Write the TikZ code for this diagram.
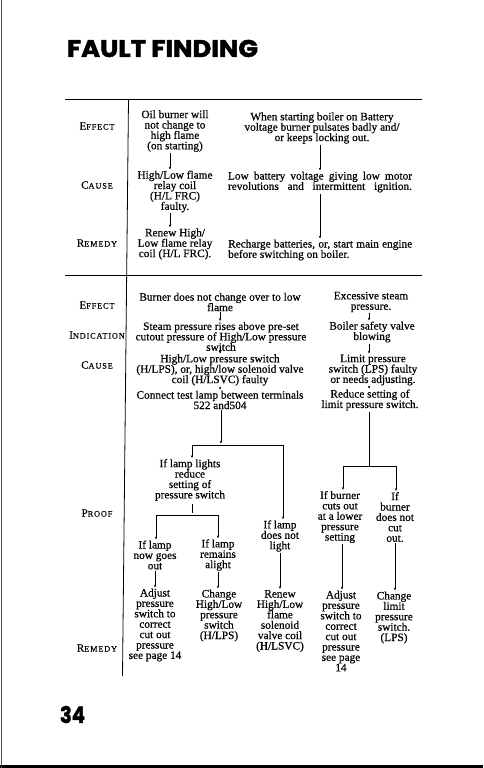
\documentclass[tikz,border=0pt]{standalone}
\usepackage{fontspec}
\usepackage{graphicx}
\setmainfont{Liberation Serif}[FakeBold=0.5]
\newfontfamily\titlefont{Poppins}[BoldFeatures={FakeBold=2}]
\newfontfamily\lblfont{Liberation Serif}[LetterSpace=10,FakeBold=0.4]
\usetikzlibrary{arrows.meta}
\newcommand\lbl[2]{{\lblfont\fontsize{11}{12}\selectfont #1\fontsize{8.3}{10}\selectfont #2}}
\begin{document}
\lineskiplimit=-5pt
\begin{tikzpicture}[x=1pt,y=-1pt,
  txt/.style={font=\fontsize{11.3}{10.4}\selectfont, align=center, inner sep=1pt},
  lab/.style={inner sep=0pt},
  arr/.style={draw, line width=0.55pt, -{Stealth[length=2.8pt,width=2.4pt]}},
  ln/.style={draw, line width=0.55pt},
  rule/.style={draw, line width=1pt}]
\useasboundingbox (0,0) rectangle (483,768);
\fill[white] (0,0) rectangle (483,768);
% scan edges
\fill[black] (0,764.5) rectangle (483,768);
\draw[line width=1pt, black!70] (1.5,0) -- (1.5,768);

% title and page number
\node[inner sep=0pt] (title) at (162.5,48.5) {\resizebox{191pt}{17pt}{\titlefont\bfseries FAULT FINDING}};
\node[inner sep=0pt] (pnum) at (72.5,714.5) {\resizebox{25pt}{17pt}{\titlefont\bfseries 34}};

% rules
\coordinate (r1L) at (65,99);   \coordinate (r1R) at (422,99);
\coordinate (r2L) at (65,275.5); \coordinate (r2R) at (422,275.5);
\coordinate (vT) at (128.5,99); \coordinate (vB) at (122.5,676);
\draw[rule] (r1L) -- (r1R);
\draw[rule] (r2L) -- (r2R);
\draw[line width=0.8pt] (vT) -- (vB);

% ---------- section 1 ----------
\node[lab] (lE1) at (97,126) {\lbl{E}{FFECT}};
\node[lab] (lC1) at (97,185) {\lbl{C}{AUSE}};
\node[lab] (lR1) at (97,243) {\lbl{R}{EMEDY}};

\node[txt] (a1) at (175,131) {Oil burner will\\not change to\\high flame\\(on starting)};
\node[txt] (a2) at (175,191.5) {High/Low flame\\relay coil\\(H/L FRC)\\faulty.};
\node[txt] (a3) at (175,244) {Renew High/\\Low flame relay\\coil (H/L FRC).};

\node[txt] (b1) at (322,128) {When starting boiler on Battery\\voltage burner pulsates badly and/\\or keeps locking out.};
\node[txt] (b2) at (320,182) {\makebox[184pt][s]{Low battery voltage giving low motor}\\\makebox[184pt][s]{revolutions and intermittent ignition.}};
\node[txt, align=left, anchor=west] (b3) at (227,250) {\makebox[184pt][s]{Recharge batteries, or, start main engine}\\before switching on boiler.};

\coordinate (xa) at (170,0);
\coordinate (xb) at (320,0);
\draw[arr] (a1.south -| xa) -- (a2.north -| xa);
\draw[arr] (a2.south -| xa) -- (a3.north -| xa);
\draw[arr] (b1.south -| xb) -- (b2.north -| xb);
\draw[arr] (b2.south -| xb) -- (b3.north -| xb);

% ---------- section 2 ----------
\node[lab] (lE2) at (97,305) {\lbl{E}{FFECT}};
\node[lab] (lI) at (97,335) {\lbl{I}{NDICATION}};
\node[lab] (lC2) at (97,365) {\lbl{C}{AUSE}};
\node[lab] (lP) at (97,513) {\lbl{P}{ROOF}};
\node[lab] (lR2) at (97,648) {\lbl{R}{EMEDY}};

\node[txt] (c1) at (220,302) {Burner does not change over to low\\flame};
\node[txt] (c2) at (221,336.5) {Steam pressure rises above pre-set\\cutout pressure of High/Low pressure\\switch};
\node[txt] (c3) at (220,370) {High/Low pressure switch\\(H/LPS), or, high/low solenoid valve\\coil (H/LSVC) faulty};
\node[txt] (c4) at (220,400) {Connect test lamp between terminals\\522 and504};
\node[txt] (c5) at (190,480) {If lamp lights\\reduce\\setting of\\pressure switch};
\node[txt] (c6) at (155,555) {If lamp\\now goes\\out};
\node[txt] (c7) at (218,555) {If lamp\\remains\\alight};
\node[txt] (c8) at (280,536) {If lamp\\does not\\light};
\node[txt] (c9) at (155,625) {Adjust\\pressure\\switch to\\correct\\cut out\\pressure\\see page 14};
\node[txt] (c10) at (219,615.5) {Change\\High/Low\\pressure\\switch\\(H/LPS)};
\node[txt] (c11) at (280,621) {Renew\\High/Low\\flame\\solenoid\\valve coil\\(H/LSVC)};

\node[txt] (d1) at (371,302) {Excessive steam\\pressure.};
\node[txt] (d2) at (372,332) {Boiler safety valve\\blowing};
\node[txt] (d3) at (373,370) {Limit pressure\\switch (LPS) faulty\\or needs adjusting.};
\node[txt] (d4) at (370,400) {Reduce setting of\\limit pressure switch.};
\node[txt] (d5) at (340,517) {If burner\\cuts out\\at a lower\\pressure\\setting};
\node[txt] (d6) at (395,517) {If\\burner\\does not\\cut\\out.};
\node[txt] (d7) at (341,631) {Adjust\\pressure\\switch to\\correct\\cut out\\pressure\\see page\\14};
\node[txt] (d8) at (394,617.5) {Change\\limit\\pressure\\switch.\\(LPS)};

% connectors, left tree
\coordinate (xc) at (220,0);
\draw[arr] (c1.south -| xc) -- (c2.north -| xc);
\draw[arr] (c2.south -| xc) -- (c3.north -| xc);
\draw[arr] (c3.south -| xc) -- (c4.north -| xc);
\coordinate (bar1L) at (192,445); \coordinate (bar1M) at (221,445); \coordinate (bar1R) at (283,445);
\draw[ln] (bar1L) -- (bar1R);
\draw[arr, shorten >=1.5pt] (c4.south -| bar1M) -- (bar1M);
\draw[arr] (bar1L) -- (c5.north -| bar1L);
\draw[arr] (bar1R) -- (c8.north -| bar1R);
\coordinate (bar2L) at (156,515); \coordinate (bar2M) at (192,515); \coordinate (bar2R) at (218,515);
\draw[ln] (bar2L) -- (bar2R);
\draw[ln, shorten <=2pt, shorten >=2pt] (c5.south -| bar2M) -- (bar2M);
\draw[arr] (bar2L) -- (c6.north -| bar2L);
\draw[arr] (bar2R) -- (c7.north -| bar2R);
\coordinate (x6) at (155,0); \coordinate (x7) at (218,0); \coordinate (x8) at (280,0);
\draw[arr] (c6.south -| x6) -- (c9.north -| x6);
\draw[arr] (c7.south -| x7) -- (c10.north -| x7);
\draw[arr] (c8.south -| x8) -- (c11.north -| x8);

% connectors, right tree
\coordinate (xd) at (369,0);
\draw[arr] (d1.south -| xd) -- (d2.north -| xd);
\draw[arr] (d2.south -| xd) -- (d3.north -| xd);
\draw[arr] (d3.south -| xd) -- (d4.north -| xd);
\coordinate (bar3L) at (343,466); \coordinate (bar3M) at (369,466); \coordinate (bar3R) at (396,466);
\draw[ln] (bar3L) -- (bar3R);
\draw[ln] (d4.south -| bar3M) -- (bar3M);
\draw[arr] (bar3L) -- (d5.north -| bar3L);
\draw[arr] (bar3R) -- (d6.north -| bar3R);
\coordinate (x5) at (342,0); \coordinate (x9) at (395,0);
\draw[arr] (d5.south -| x5) -- (d7.north -| x5);
\draw[arr] (d6.south -| x9) -- (d8.north -| x9);
\end{tikzpicture}
\end{document}
